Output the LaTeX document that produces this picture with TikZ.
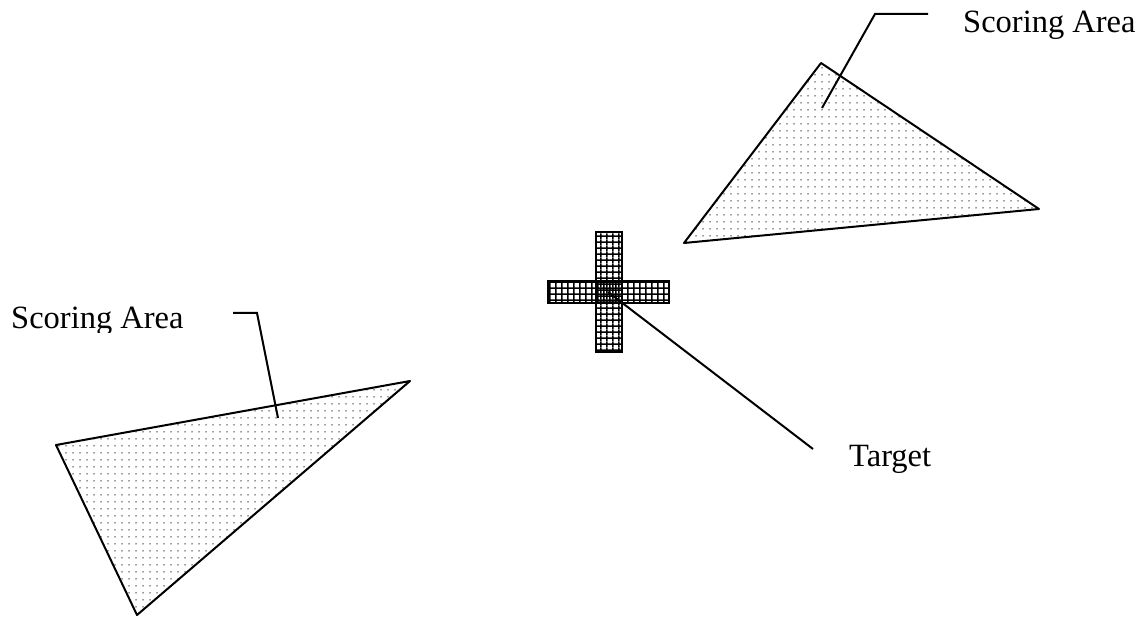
\documentclass[tikz,border=0pt]{standalone}
\usepackage{fontspec}
\setmainfont{Liberation Serif}
\usetikzlibrary{patterns.meta}

\tikzdeclarepattern{name=sanddots, type=colored,
  bottom left={(0pt,0pt)}, top right={(7pt,7pt)}, tile size={(7pt,7pt)},
  code={\fill[black!80] (3.5pt,3.5pt) circle (0.85pt);}}
\tikzdeclarepattern{name=crossgrid, type=colored,
  bottom left={(0pt,0pt)}, top right={(6.3pt,6.3pt)}, tile size={(6.3pt,6.3pt)},
  code={\draw[line width=1.6pt] (0pt,3.15pt) -- (6.3pt,3.15pt) (3.15pt,0pt) -- (3.15pt,6.3pt);}}

\begin{document}
\begin{tikzpicture}[x=1pt,y=-1pt,
  zone/.style={draw,line width=2pt,line join=round,pattern=sanddots},
  bar/.style={draw,line width=2pt,pattern=crossgrid},
  leader/.style={line width=2pt},
  tag/.style={font=\fontsize{32.5}{39}\selectfont,inner sep=0pt,anchor=base west}]
  \useasboundingbox (0,0) rectangle (1142,617);

  % scoring areas
  \draw[zone] (821,63) -- (1039,209) -- (684,243) -- cycle;
  \draw[zone] (56,445) -- (410,381) -- (137,615) -- cycle;

  % target cross
  \draw[bar] (548,281) rectangle (669,303);
  \draw[bar] (596,232) rectangle (622,352);
  \coordinate (crossc) at (608,292);

  % labels
  \node[tag] (areaNE) at (963,32.3) {Scoring Area};
  \begin{scope}
    \clip (0,290) rectangle (300,332);
    \node[tag] (areaSW) at (11,328) {Scoring Area};
  \end{scope}
  \node[tag] (target) at (849,466) {Target};

  % leaders
  \coordinate (pinNE) at (822,108);
  \coordinate (bendNE) at (875,14);
  \coordinate (endNE) at (928,14);
  \draw[leader] (pinNE) -- (bendNE) -- (endNE);
  \coordinate (pinSW) at (278,418);
  \coordinate (bendSW) at (257,313);
  \coordinate (endSW) at (233,313);
  \draw[leader] (pinSW) -- (bendSW) -- (endSW);
  \coordinate (pinT) at (813,449);
  \draw[leader] (crossc) -- (pinT);
\end{tikzpicture}
\end{document}
